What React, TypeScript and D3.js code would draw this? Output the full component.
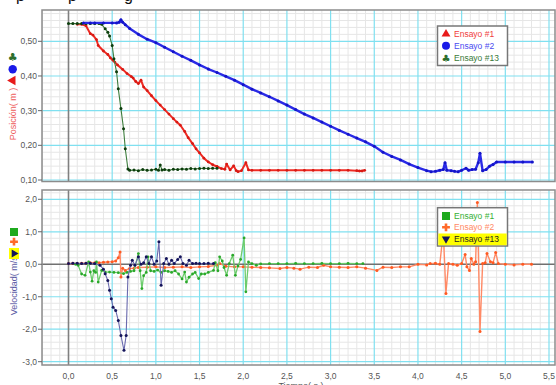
import React, { useRef, useEffect } from "react";
import * as d3 from "d3";

const W = 556;
const H = 385;

// Posición (m) - Ensayo #1
const pos1T = [0.10, 0.15, 0.20, 0.25, 0.28, 0.32, 0.34, 0.40, 0.45, 0.48, 0.51, 0.53, 0.56, 0.62, 0.67, 0.72, 0.74, 0.77, 0.80, 0.83, 0.86, 0.90, 0.95, 1.00, 1.05, 1.10, 1.15, 1.20, 1.24, 1.28, 1.33, 1.37, 1.42, 1.46, 1.50, 1.55, 1.60, 1.65, 1.70, 1.75, 1.79, 1.81, 1.85, 1.89, 1.92, 1.94, 1.98, 2.03, 2.06, 2.10, 2.20, 2.30, 2.40, 2.50, 2.60, 2.70, 2.80, 2.90, 3.00, 3.10, 3.20, 3.30, 3.33, 3.36, 3.39];
const pos1V = [0.549, 0.549, 0.545, 0.522, 0.518, 0.505, 0.488, 0.472, 0.462, 0.452, 0.445, 0.440, 0.432, 0.419, 0.407, 0.398, 0.394, 0.384, 0.378, 0.388, 0.368, 0.358, 0.343, 0.329, 0.316, 0.303, 0.290, 0.277, 0.267, 0.258, 0.240, 0.222, 0.205, 0.190, 0.178, 0.163, 0.152, 0.144, 0.139, 0.133, 0.131, 0.146, 0.129, 0.141, 0.127, 0.124, 0.127, 0.150, 0.129, 0.128, 0.128, 0.128, 0.128, 0.128, 0.128, 0.128, 0.128, 0.128, 0.128, 0.128, 0.128, 0.127, 0.126, 0.126, 0.128];

// Posición (m) - Ensayo #2
const pos2T = [0.17, 0.25, 0.30, 0.40, 0.50, 0.55, 0.58, 0.60, 0.62, 0.65, 0.70, 0.80, 0.90, 1.00, 1.10, 1.20, 1.30, 1.40, 1.50, 1.60, 1.70, 1.80, 1.90, 2.00, 2.10, 2.20, 2.30, 2.40, 2.50, 2.60, 2.70, 2.80, 2.90, 3.00, 3.10, 3.20, 3.30, 3.40, 3.50, 3.60, 3.70, 3.80, 3.90, 4.00, 4.10, 4.15, 4.20, 4.25, 4.29, 4.31, 4.33, 4.38, 4.42, 4.46, 4.50, 4.55, 4.58, 4.62, 4.66, 4.69, 4.71, 4.74, 4.78, 4.82, 4.86, 4.90, 5.00, 5.10, 5.20, 5.31];
const pos2V = [0.553, 0.553, 0.553, 0.553, 0.553, 0.553, 0.555, 0.562, 0.555, 0.548, 0.537, 0.520, 0.506, 0.496, 0.483, 0.470, 0.457, 0.445, 0.432, 0.420, 0.410, 0.399, 0.388, 0.375, 0.362, 0.351, 0.340, 0.328, 0.316, 0.303, 0.290, 0.279, 0.267, 0.255, 0.243, 0.232, 0.221, 0.210, 0.197, 0.180, 0.168, 0.158, 0.146, 0.136, 0.127, 0.124, 0.125, 0.128, 0.130, 0.150, 0.128, 0.127, 0.125, 0.124, 0.128, 0.134, 0.128, 0.130, 0.131, 0.150, 0.177, 0.127, 0.130, 0.140, 0.145, 0.152, 0.152, 0.152, 0.152, 0.152];

// Posición (m) - Ensayo #13
const pos13T = [0.00, 0.05, 0.10, 0.15, 0.20, 0.25, 0.30, 0.35, 0.38, 0.42, 0.45, 0.47, 0.50, 0.52, 0.55, 0.57, 0.60, 0.63, 0.65, 0.68, 0.70, 0.75, 0.80, 0.85, 0.90, 0.95, 1.00, 1.03, 1.05, 1.07, 1.10, 1.15, 1.20, 1.25, 1.30, 1.35, 1.40, 1.45, 1.50, 1.55, 1.60, 1.65, 1.70];
const pos13V = [0.551, 0.551, 0.551, 0.551, 0.551, 0.551, 0.551, 0.551, 0.549, 0.536, 0.526, 0.515, 0.488, 0.450, 0.412, 0.363, 0.306, 0.248, 0.190, 0.132, 0.128, 0.129, 0.127, 0.130, 0.128, 0.129, 0.131, 0.128, 0.143, 0.129, 0.130, 0.128, 0.131, 0.130, 0.132, 0.131, 0.133, 0.132, 0.133, 0.134, 0.133, 0.134, 0.134];

// Velocidad (m/s) - Ensayo #1
const vel1T = [0.08, 0.11, 0.15, 0.19, 0.23, 0.25, 0.27, 0.29, 0.31, 0.32, 0.34, 0.38, 0.42, 0.47, 0.52, 0.57, 0.63, 0.67, 0.71, 0.75, 0.80, 0.82, 0.84, 0.86, 0.89, 0.91, 0.94, 0.98, 1.02, 1.06, 1.10, 1.14, 1.18, 1.22, 1.26, 1.30, 1.33, 1.35, 1.38, 1.42, 1.45, 1.49, 1.52, 1.56, 1.60, 1.66, 1.68, 1.71, 1.73, 1.76, 1.78, 1.81, 1.84, 1.88, 1.91, 1.94, 1.97, 2.01, 2.03, 2.06, 2.10, 2.15, 2.20, 2.30, 2.40, 2.50, 2.60, 2.70, 2.80, 2.90, 3.00, 3.10, 3.20, 3.30, 3.37];
const vel1V = [0.00, -0.03, -0.30, -0.34, 0.07, -0.24, -0.52, -0.20, -0.25, 0.07, -0.55, -0.19, -0.24, -0.24, -0.25, -0.26, -0.29, -0.25, -0.22, -0.20, 0.33, -0.20, -0.75, -0.35, -0.25, 0.23, -0.20, -0.22, -0.18, -0.25, -0.20, -0.22, -0.25, -0.20, -0.30, -0.45, -0.24, -0.55, -0.40, -0.30, -0.25, -0.44, -0.30, -0.30, -0.25, -0.19, 0.05, -0.20, 0.23, 0.10, -0.10, -0.34, 0.02, 0.28, -0.34, -0.05, 0.15, 0.81, -0.85, 0.07, 0.02, -0.03, 0.01, 0.02, 0.02, 0.02, 0.03, 0.02, 0.02, 0.03, 0.02, 0.02, 0.03, 0.02, 0.02];

// Velocidad (m/s) - Ensayo #2
const vel2T = [0.00, 0.05, 0.10, 0.15, 0.20, 0.25, 0.30, 0.35, 0.40, 0.45, 0.50, 0.54, 0.57, 0.59, 0.60, 0.62, 0.65, 0.70, 0.75, 0.80, 0.90, 1.00, 1.10, 1.20, 1.30, 1.40, 1.50, 1.60, 1.70, 1.73, 1.80, 1.90, 2.00, 2.10, 2.20, 2.30, 2.42, 2.50, 2.58, 2.65, 2.75, 2.85, 2.92, 3.00, 3.10, 3.20, 3.30, 3.40, 3.53, 3.60, 3.70, 3.80, 3.90, 4.00, 4.10, 4.14, 4.20, 4.25, 4.29, 4.32, 4.35, 4.40, 4.45, 4.50, 4.54, 4.56, 4.59, 4.61, 4.64, 4.66, 4.68, 4.71, 4.74, 4.77, 4.79, 4.83, 4.86, 4.89, 4.92, 5.00, 5.10, 5.20, 5.30];
const vel2V = [0.02, 0.03, 0.02, 0.03, 0.03, 0.05, 0.05, 0.05, 0.06, 0.07, 0.08, 0.10, 0.20, 0.38, -0.39, -0.12, -0.19, -0.13, -0.12, -0.10, -0.09, -0.08, -0.10, -0.09, -0.08, -0.10, -0.08, -0.07, -0.03, 0.02, -0.06, -0.08, -0.08, -0.09, -0.10, -0.11, -0.13, -0.10, -0.12, -0.15, -0.09, -0.10, -0.03, -0.08, -0.09, -0.10, -0.08, -0.12, -0.19, -0.09, -0.10, -0.08, -0.08, 0.00, -0.02, 0.02, 0.03, 0.00, 1.00, -0.90, 0.02, 0.00, -0.03, 0.02, 0.30, -0.08, -0.19, 0.18, 0.00, 0.08, 1.90, -2.07, 0.02, 0.05, 0.33, 0.08, 0.05, 0.36, 0.02, 0.00, -0.02, 0.00, 0.00];

// Velocidad (m/s) - Ensayo #13
const vel13T = [0.00, 0.05, 0.10, 0.15, 0.20, 0.25, 0.30, 0.36, 0.40, 0.42, 0.45, 0.47, 0.49, 0.51, 0.54, 0.57, 0.60, 0.635, 0.66, 0.68, 0.71, 0.73, 0.76, 0.80, 0.83, 0.86, 0.89, 0.92, 0.95, 0.98, 1.01, 1.035, 1.06, 1.09, 1.12, 1.15, 1.18, 1.21, 1.25, 1.28, 1.31, 1.35, 1.38, 1.42, 1.46, 1.50, 1.55, 1.60, 1.66];
const vel13V = [0.02, 0.03, 0.03, 0.02, 0.03, 0.03, 0.02, -0.03, -0.15, -0.29, -0.50, -0.80, -1.06, -1.32, -1.42, -1.73, -2.19, -2.65, -2.19, -0.39, -0.03, 0.12, -0.03, 0.23, 0.00, 0.05, 0.23, 0.02, 0.23, 0.00, 0.10, 0.69, -0.65, 0.02, 0.18, 0.00, 0.12, 0.02, 0.15, 0.23, 0.02, -0.03, 0.12, 0.02, 0.03, 0.02, 0.02, 0.03, 0.02];

const timeTicks = [0, 0.5, 1, 1.5, 2, 2.5, 3, 3.5, 4, 4.5, 5, 5.5];
const posTicks = [0.1, 0.2, 0.3, 0.4, 0.5];
const velTicks = [-3, -2, -1, 0, 1, 2];
const legendNames = ["Ensayo #1", "Ensayo #2", "Ensayo #13"];

const FONT = "'Liberation Sans', Arial, sans-serif";

const comma = (v: number, d: number) => v.toFixed(d).replace(".", ",");

export default function App() {
  const svgRef = useRef<SVGSVGElement>(null);

  useEffect(() => {
    const svg = d3.select(svgRef.current);
    svg.selectAll("*").remove();

    const frameL = 42;
    const frameR = 555;

    const x = d3.scaleLinear().domain([0, 5.5]).range([68.5, 549]);
    const yPos = d3.scaleLinear().domain([0.1, 0.5]).range([180, 41.3]);
    const yVel = d3.scaleLinear().domain([-3, 2]).range([361.7, 199.3]);

    // title (cut off at top of the picture)
    svg
      .append("text")
      .attr("y", 1)
      .attr("font-family", FONT)
      .attr("font-size", 16)
      .attr("fill", "#111")
      .selectAll("tspan")
      .data([
        ["p", 16],
        ["p", 68],
        ["g", 124],
      ])
      .join("tspan")
      .attr("x", (d) => d[1] as number)
      .text((d) => d[0] as string);

    const drawPanel = (
      id: string,
      top: number,
      bottom: number,
      y: d3.ScaleLinear<number, number>,
      ticks: number[],
      minorStep: number,
      majorStep: number,
      digits: number,
      zeroLine: boolean
    ) => {
      const g = svg.append("g");

      svg
        .append("clipPath")
        .attr("id", id)
        .append("rect")
        .attr("x", frameL)
        .attr("y", top)
        .attr("width", frameR - frameL)
        .attr("height", bottom - top);

      g.append("rect")
        .attr("x", frameL)
        .attr("y", top)
        .attr("width", frameR - frameL)
        .attr("height", bottom - top)
        .attr("fill", "#fff");

      const grid = g.append("g").attr("clip-path", `url(#${id})`);

      // minor grid
      const xMin = x.invert(frameL);
      const xMax = x.invert(frameR);
      d3.range(Math.ceil(xMin * 10), Math.floor(xMax * 10) + 1)
        .filter((k) => k % 5 !== 0)
        .forEach((k) => {
          grid
            .append("line")
            .attr("x1", x(k / 10))
            .attr("x2", x(k / 10))
            .attr("y1", top)
            .attr("y2", bottom)
            .attr("stroke", "#e6e6e6");
        });
      const [yLo, yHi] = [y.invert(bottom), y.invert(top)];
      d3.range(Math.ceil(yLo / minorStep - 1e-6), Math.floor(yHi / minorStep + 1e-6) + 1)
        .filter((k) => Math.abs((k * minorStep) / majorStep - Math.round((k * minorStep) / majorStep)) > 1e-6)
        .forEach((k) => {
          grid
            .append("line")
            .attr("x1", frameL)
            .attr("x2", frameR)
            .attr("y1", y(k * minorStep))
            .attr("y2", y(k * minorStep))
            .attr("stroke", "#e6e6e6");
        });

      // major grid
      timeTicks
        .filter((t) => t !== 0)
        .forEach((t) => {
          grid
            .append("line")
            .attr("x1", x(t))
            .attr("x2", x(t))
            .attr("y1", top)
            .attr("y2", bottom)
            .attr("stroke", "#80e0f0")
            .attr("stroke-width", 1.2);
        });
      ticks
        .filter((v) => !(zeroLine && v === 0))
        .forEach((v) => {
          grid
            .append("line")
            .attr("x1", frameL)
            .attr("x2", frameR)
            .attr("y1", y(v))
            .attr("y2", y(v))
            .attr("stroke", "#80e0f0")
            .attr("stroke-width", 1.2);
        });

      // zero lines
      grid
        .append("line")
        .attr("x1", x(0))
        .attr("x2", x(0))
        .attr("y1", top)
        .attr("y2", bottom)
        .attr("stroke", "#808080")
        .attr("stroke-width", 1.6);
      if (zeroLine) {
        grid
          .append("line")
          .attr("x1", frameL)
          .attr("x2", frameR)
          .attr("y1", y(0))
          .attr("y2", y(0))
          .attr("stroke", "#707070")
          .attr("stroke-width", 1.4);
      }

      // frame
      g.append("rect")
        .attr("x", frameL)
        .attr("y", top)
        .attr("width", frameR - frameL)
        .attr("height", bottom - top)
        .attr("fill", "none")
        .attr("stroke", "#8c8c8c")
        .attr("stroke-width", 1.5);

      // y ticks + labels
      ticks.forEach((v) => {
        g.append("line")
          .attr("x1", frameL - 4)
          .attr("x2", frameL)
          .attr("y1", y(v))
          .attr("y2", y(v))
          .attr("stroke", "#666");
        g.append("text")
          .attr("x", frameL - 5)
          .attr("y", y(v))
          .attr("dy", "0.35em")
          .attr("text-anchor", "end")
          .attr("font-family", FONT)
          .attr("font-size", 8.5)
          .attr("fill", "#555")
          .text(comma(v, digits));
      });

      return grid;
    };

    const drawSeries = (
      layer: d3.Selection<SVGGElement, unknown, null, undefined>,
      ts: number[],
      vs: number[],
      y: d3.ScaleLinear<number, number>,
      lineColor: string,
      lineWidth: number,
      dotColor: string,
      r: number
    ) => {
      const pts = ts.map((t, i) => [t, vs[i]] as [number, number]);
      const line = d3
        .line<[number, number]>()
        .x((d) => x(d[0]))
        .y((d) => y(d[1]));
      layer
        .append("path")
        .datum(pts)
        .attr("d", line)
        .attr("fill", "none")
        .attr("stroke", lineColor)
        .attr("stroke-width", lineWidth)
        .attr("stroke-linejoin", "round");
      layer
        .append("g")
        .selectAll("circle")
        .data(pts)
        .join("circle")
        .attr("cx", (d) => x(d[0]))
        .attr("cy", (d) => y(d[1]))
        .attr("r", r)
        .attr("fill", dotColor);
    };

    // ---------- top panel: posición ----------
    const topLayer = drawPanel("clipTop", 10, 181.5, yPos, posTicks, 0.02, 0.1, 2, false);
    drawSeries(topLayer, pos1T, pos1V, yPos, "#ee2a22", 2, "#d81a14", 1.4);
    drawSeries(topLayer, pos13T, pos13V, yPos, "#3d7d3d", 1.1, "#0d3d0d", 1.5);
    drawSeries(topLayer, pos2T, pos2V, yPos, "#2a2ae6", 2.4, "#1414c8", 1.5);

    // ---------- bottom panel: velocidad ----------
    const botLayer = drawPanel("clipBot", 190, 365, yVel, velTicks, 0.2, 1, 1, true);
    drawSeries(botLayer, vel2T, vel2V, yVel, "#ff8a66", 1.4, "#ff5a22", 1.5);
    drawSeries(botLayer, vel1T, vel1V, yVel, "#6ccc6c", 1.3, "#2aa82a", 1.4);
    drawSeries(botLayer, vel13T, vel13V, yVel, "#6a6aae", 1.1, "#14145a", 1.5);

    // x tick labels
    timeTicks.forEach((t) => {
      svg
        .append("text")
        .attr("x", x(t))
        .attr("y", 376.5)
        .attr("dy", "0.35em")
        .attr("text-anchor", "middle")
        .attr("font-family", FONT)
        .attr("font-size", 8.5)
        .attr("fill", "#555")
        .text(comma(t, 1));
    });
    svg
      .append("text")
      .attr("x", 301)
      .attr("y", 389)
      .attr("text-anchor", "middle")
      .attr("font-family", FONT)
      .attr("font-size", 9)
      .attr("fill", "#555")
      .text("Tiempo( s )");

    // ---------- y axis titles with series icons ----------
    const sym = (type: d3.SymbolType, size: number) => d3.symbol().type(type).size(size)();

    svg
      .append("text")
      .attr("transform", "translate(16,114) rotate(-90)")
      .attr("text-anchor", "middle")
      .attr("font-family", FONT)
      .attr("font-size", 9)
      .attr("fill", "#ee5a5a")
      .text("Posición( m )");
    svg
      .append("text")
      .attr("x", 12.7)
      .attr("y", 60.5)
      .attr("text-anchor", "middle")
      .attr("font-family", "DejaVu Sans")
      .attr("font-size", 11)
      .attr("fill", "#2d6e2d")
      .text("♣");
    svg.append("circle").attr("cx", 12.7).attr("cy", 69.3).attr("r", 4.2).attr("fill", "#1a1ae8");
    svg
      .append("path")
      .attr("transform", "translate(12.7,80.5) rotate(-90)")
      .attr("d", sym(d3.symbolTriangle, 40))
      .attr("fill", "#e81a1a");

    svg
      .append("text")
      .attr("transform", "translate(17,283) rotate(-90)")
      .attr("text-anchor", "middle")
      .attr("font-family", FONT)
      .attr("font-size", 9)
      .attr("fill", "#5a5aa4")
      .text("Velocidad( m/s )");
    svg
      .append("rect")
      .attr("x", 10)
      .attr("y", 228)
      .attr("width", 8)
      .attr("height", 8)
      .attr("fill", "#1eaa1e");
    svg
      .append("path")
      .attr("transform", "translate(14,241.7)")
      .attr("d", sym(d3.symbolCross, 34))
      .attr("fill", "#ff6a2a");
    svg
      .append("rect")
      .attr("x", 9)
      .attr("y", 248)
      .attr("width", 10)
      .attr("height", 11)
      .attr("fill", "#ffff00");
    svg
      .append("path")
      .attr("transform", "translate(14,253.5) rotate(-90) rotate(180)")
      .attr("d", sym(d3.symbolTriangle, 28))
      .attr("fill", "#14145a");

    // ---------- legends ----------
    const legend = (
      x0: number,
      y0: number,
      h: number,
      rows: number[],
      textColors: string[],
      markers: ((gg: d3.Selection<SVGGElement, unknown, null, undefined>) => void)[],
      highlight: number
    ) => {
      const lg = svg.append("g");
      lg.append("rect")
        .attr("x", x0)
        .attr("y", y0)
        .attr("width", 70)
        .attr("height", h)
        .attr("fill", "#fff")
        .attr("stroke", "#777")
        .attr("stroke-width", 1.5);
      if (highlight >= 0) {
        lg.append("rect")
          .attr("x", x0 + 0.8)
          .attr("y", rows[highlight] - 5.5)
          .attr("width", 68.4)
          .attr("height", y0 + h - rows[highlight] + 4.7)
          .attr("fill", "#ffff00");
      }
      legendNames.forEach((name, i) => {
        const mg = lg.append("g").attr("transform", `translate(${x0 + 8.5},${rows[i]})`);
        markers[i](mg);
        lg.append("text")
          .attr("x", x0 + 16.5)
          .attr("y", rows[i])
          .attr("dy", "0.35em")
          .attr("font-family", FONT)
          .attr("font-size", 8.5)
          .attr("fill", textColors[i])
          .text(name);
      });
    };

    legend(
      437.5,
      26,
      39.5,
      [34, 45.8, 58],
      ["#f03c3c", "#4a4af0", "#3a7a3a"],
      [
        (m) => m.append("path").attr("d", sym(d3.symbolTriangle, 34)).attr("fill", "#e81a1a"),
        (m) => m.append("circle").attr("r", 4).attr("fill", "#1a1ae8"),
        (m) =>
          m
            .append("text")
            .attr("y", 4)
            .attr("text-anchor", "middle")
            .attr("font-family", "DejaVu Sans")
            .attr("font-size", 10)
            .attr("fill", "#2d6e2d")
            .text("♣"),
      ],
      -1
    );

    legend(
      437.5,
      207.7,
      38.3,
      [216, 227.3, 239],
      ["#34b034", "#ff8a66", "#222"],
      [
        (m) => m.append("rect").attr("x", -4).attr("y", -4).attr("width", 8).attr("height", 8).attr("fill", "#1eaa1e"),
        (m) => m.append("path").attr("d", sym(d3.symbolCross, 34)).attr("fill", "#ff6a2a"),
        (m) => m.append("path").attr("transform", "rotate(180)").attr("d", sym(d3.symbolTriangle, 30)).attr("fill", "#14145a"),
      ],
      2
    );
  }, []);

  return (
    <svg
      ref={svgRef}
      width={W}
      height={H}
      style={{ position: "absolute", left: 0, top: 0, background: "#fff" }}
    />
  );
}
